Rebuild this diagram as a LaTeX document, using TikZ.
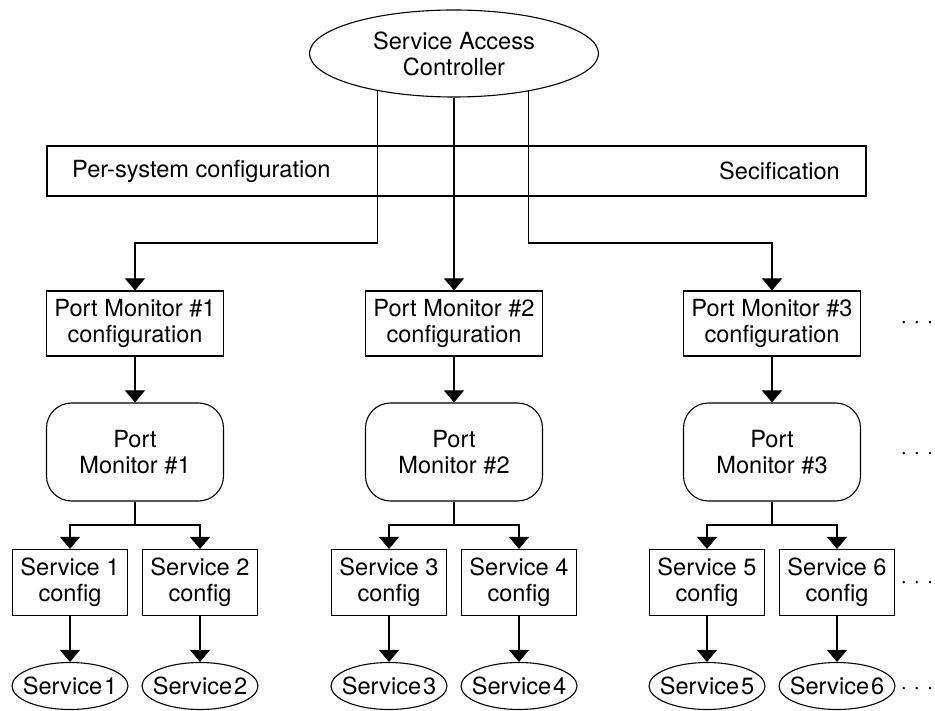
\documentclass[tikz,border=0pt]{standalone}
\usepackage{fontspec}
\setmainfont{TeX Gyre Heros}
\usetikzlibrary{arrows.meta,shapes.geometric}
\begin{document}
\begin{tikzpicture}[x=1pt,y=-1pt,
  every node/.style={font=\fontsize{23.6}{26}\selectfont, align=center, inner sep=0pt},
  ln/.style={line width=1.1pt},
  arr/.style={line width=1.1pt, -{Triangle[width=20pt,length=12pt]}},
  cfgbox/.style={draw, line width=1.1pt, minimum width=177pt, minimum height=65pt},
  pmbox/.style={draw, line width=1.1pt, rounded corners=25pt, minimum width=177pt, minimum height=98pt},
  svcbox/.style={draw, line width=1.1pt, minimum width=115pt, minimum height=66pt},
  svcell/.style={draw, ellipse, line width=1.1pt, minimum width=116pt, minimum height=47pt},
  dotsnode/.style={anchor=base}
]
\useasboundingbox (0,0) rectangle (935,711);

% top controller
\node[draw, ellipse, line width=1.1pt, minimum width=289pt, minimum height=87pt] (sac) at (454,53.5) {Service Access\\Controller};

% configuration bar
\node[draw, line width=1.1pt, minimum width=819pt, minimum height=50pt] (bar) at (456.5,171) {};
\node[anchor=west] (barl) at (72,171) {Per-system configuration};
\node[anchor=east] (barr) at (840,171) {Secification};

% port monitor configs
\node[cfgbox] (pmc1) at (135,323.5) {Port Monitor \#1\\configuration};
\node[cfgbox] (pmc2) at (454,323.5) {Port Monitor \#2\\configuration};
\node[cfgbox] (pmc3) at (772,323.5) {Port Monitor \#3\\configuration};

% port monitors
\node[pmbox] (pm1) at (135,452) {Port\\Monitor \#1};
\node[pmbox] (pm2) at (454,452) {Port\\Monitor \#2};
\node[pmbox] (pm3) at (772,452) {Port\\Monitor \#3};

% service configs
\node[svcbox] (sc1) at (70,582.5) {Service 1\\config};
\node[svcbox] (sc2) at (200,582.5) {Service 2\\config};
\node[svcbox] (sc3) at (389,582.5) {Service 3\\config};
\node[svcbox] (sc4) at (519,582.5) {Service 4\\config};
\node[svcbox] (sc5) at (707,582.5) {Service 5\\config};
\node[svcbox] (sc6) at (837,582.5) {Service 6\\config};

% services
\node[svcell] (s1) at (70,686) {\makebox[0pt]{Service\hspace{0.08em}1}};
\node[svcell] (s2) at (200,686) {\makebox[0pt]{Service\hspace{0.08em}2}};
\node[svcell] (s3) at (389,686) {\makebox[0pt]{Service\hspace{0.08em}3}};
\node[svcell] (s4) at (519,686) {\makebox[0pt]{Service\hspace{0.08em}4}};
\node[svcell] (s5) at (707,686) {\makebox[0pt]{Service\hspace{0.08em}5}};
\node[svcell] (s6) at (837,686) {\makebox[0pt]{Service\hspace{0.08em}6}};

% dots
\node[dotsnode] (d1) at (917,329) {· · ·};
\node[dotsnode] (d2) at (917,459) {· · ·};
\node[dotsnode] (d3) at (917,588) {· · ·};
\node[dotsnode] (d4) at (917,694) {· · ·};

% connectors from controller
\coordinate (hl) at (0,243);
\draw[arr] (sac.206.9) -- (sac.206.9 |- hl) -| (pmc1.north);
\draw[arr] (sac.south) -- (pmc2.north);
\draw[arr] (sac.333.1) -- (sac.333.1 |- hl) -| (pmc3.north);

% configs to monitors
\foreach \i in {1,2,3} {
  \draw[arr] (pmc\i.south) -- (pm\i.north);
}

% monitors to service configs
\coordinate (sl) at (0,525);
\draw[ln] (pm1.south) -- (pm1.south |- sl);
\draw[arr] (pm1.south |- sl) -| (sc1.north);
\draw[arr] (pm1.south |- sl) -| (sc2.north);
\draw[ln] (pm2.south) -- (pm2.south |- sl);
\draw[arr] (pm2.south |- sl) -| (sc3.north);
\draw[arr] (pm2.south |- sl) -| (sc4.north);
\draw[ln] (pm3.south) -- (pm3.south |- sl);
\draw[arr] (pm3.south |- sl) -| (sc5.north);
\draw[arr] (pm3.south |- sl) -| (sc6.north);

% service configs to services
\foreach \i in {1,...,6} {
  \draw[arr] (sc\i.south) -- (s\i.north);
}
\end{tikzpicture}
\end{document}
